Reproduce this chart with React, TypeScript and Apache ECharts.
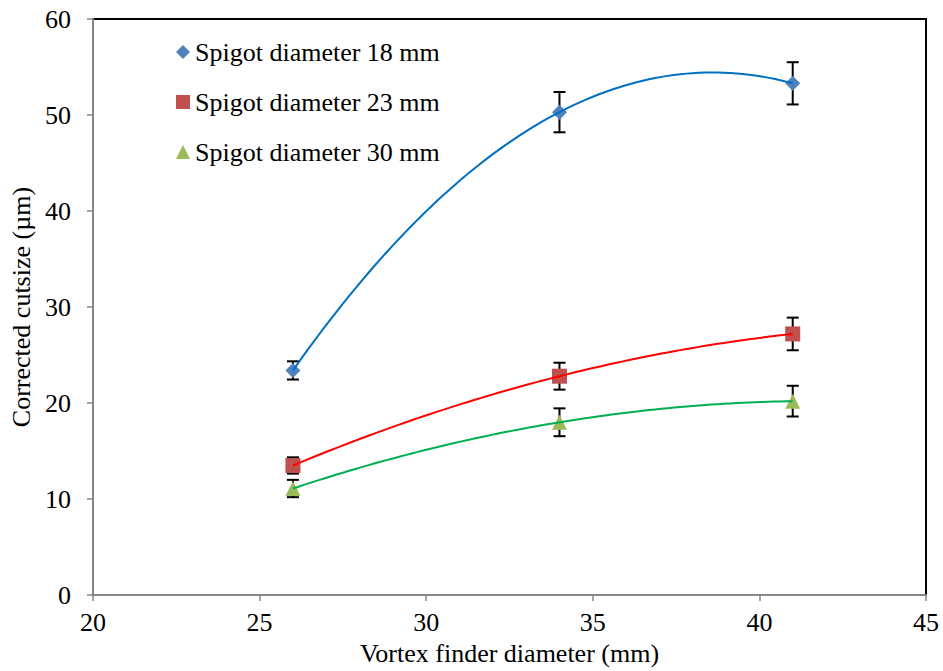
import React, { useEffect, useRef } from "react";
import * as echarts from "echarts";

// Vortex finder diameters (mm)
const vortexFinder = [26, 34, 41];

// Corrected cutsize (µm) per spigot diameter
const spigot18 = [23.4, 50.3, 53.3];
const spigot23 = [13.5, 22.8, 27.2];
const spigot30 = [11.1, 18.0, 20.2];

// Error half-widths (µm)
const err18 = [0.95, 2.1, 2.2];
const err23 = [0.85, 1.4, 1.7];
const err30 = [0.9, 1.45, 1.6];

const seriesNames = ["Spigot diameter 18 mm", "Spigot diameter 23 mm", "Spigot diameter 30 mm"];
const markerColors = ["#4f81bd", "#c0504d", "#9bbb59"];
const trendColors = ["#0070c0", "#ff0000", "#00b050"];
const symbols = ["diamond", "rect", "triangle"];

const FONT = "'Liberation Serif', 'Times New Roman', serif";

// Least-squares second-order polynomial fit (trendline), returns [c0, c1, c2]
function polyfit2(xs: number[], ys: number[]): number[] {
  const n = xs.length;
  let s0 = n, s1 = 0, s2 = 0, s3 = 0, s4 = 0, t0 = 0, t1 = 0, t2 = 0;
  for (let i = 0; i < n; i++) {
    const x = xs[i], y = ys[i];
    s1 += x; s2 += x * x; s3 += x * x * x; s4 += x * x * x * x;
    t0 += y; t1 += x * y; t2 += x * x * y;
  }
  const det3 = (m: number[][]) =>
    m[0][0] * (m[1][1] * m[2][2] - m[1][2] * m[2][1]) -
    m[0][1] * (m[1][0] * m[2][2] - m[1][2] * m[2][0]) +
    m[0][2] * (m[1][0] * m[2][1] - m[1][1] * m[2][0]);
  const A = [
    [s0, s1, s2],
    [s1, s2, s3],
    [s2, s3, s4],
  ];
  const b = [t0, t1, t2];
  const D = det3(A);
  const coef: number[] = [];
  for (let k = 0; k < 3; k++) {
    const M = A.map((row, r) => row.map((v, c) => (c === k ? b[r] : v)));
    coef.push(det3(M) / D);
  }
  return coef;
}

function trendPoints(xs: number[], ys: number[]): number[][] {
  const [c0, c1, c2] = polyfit2(xs, ys);
  const x0 = Math.min(...xs), x1 = Math.max(...xs);
  const pts: number[][] = [];
  const steps = 80;
  for (let i = 0; i <= steps; i++) {
    const x = x0 + ((x1 - x0) * i) / steps;
    pts.push([x, c0 + c1 * x + c2 * x * x]);
  }
  return pts;
}

function errorBarItem(params: any, api: any) {
  const x = api.value(0);
  const top = api.coord([x, api.value(2)]);
  const bot = api.coord([x, api.value(1)]);
  const cw = 6;
  const style = { stroke: "#000000", lineWidth: 2 };
  return {
    type: "group",
    children: [
      { type: "line", shape: { x1: top[0], y1: top[1], x2: bot[0], y2: bot[1] }, style },
      { type: "line", shape: { x1: top[0] - cw, y1: top[1], x2: top[0] + cw, y2: top[1] }, style },
      { type: "line", shape: { x1: bot[0] - cw, y1: bot[1], x2: bot[0] + cw, y2: bot[1] }, style },
    ],
  };
}

export default function App() {
  const ref = useRef<HTMLDivElement>(null);

  useEffect(() => {
    if (!ref.current) return;
    const chart = echarts.init(ref.current, undefined, { renderer: "svg" });

    const values = [spigot18, spigot23, spigot30];
    const errs = [err18, err23, err30];
    const series: any[] = [];

    values.forEach((ys, i) => {
      series.push({
        type: "custom",
        name: seriesNames[i] + " error",
        renderItem: errorBarItem,
        data: vortexFinder.map((x, j) => [x, ys[j] - errs[i][j], ys[j] + errs[i][j]]),
        encode: { x: 0, y: [1, 2] },
        z: 2,
        silent: true,
      });
    });

    values.forEach((ys, i) => {
      series.push({
        type: "scatter",
        name: seriesNames[i],
        symbol: symbols[i],
        symbolSize: 15,
        itemStyle: { color: markerColors[i], opacity: 1 },
        data: vortexFinder.map((x, j) => [x, ys[j]]),
        z: 3,
      });
    });

    values.forEach((ys, i) => {
      series.push({
        type: "line",
        name: seriesNames[i] + " trend",
        showSymbol: false,
        smooth: false,
        lineStyle: { color: trendColors[i], width: 2 },
        data: trendPoints(vortexFinder, ys),
        z: 4,
        silent: true,
      });
    });

    chart.setOption({
      animation: false,
      backgroundColor: "#ffffff",
      textStyle: { fontFamily: FONT, color: "#000000" },
      grid: {
        left: 93,
        right: 17,
        top: 19,
        bottom: 73,
        show: true,
        borderColor: "#000000",
        borderWidth: 2,
      },
      legend: {
        data: seriesNames,
        orient: "vertical",
        left: 171,
        top: 32,
        itemGap: 20,
        itemWidth: 14,
        itemHeight: 14,
        textStyle: { fontFamily: FONT, fontSize: 26, color: "#000000", lineHeight: 30 },
        selectedMode: false,
      },
      xAxis: {
        type: "value",
        min: 20,
        max: 45,
        interval: 5,
        name: "Vortex finder diameter (mm)",
        nameLocation: "middle",
        nameGap: 44,
        nameTextStyle: { fontFamily: FONT, fontSize: 26, color: "#000000" },
        axisLine: { show: true, onZero: false, lineStyle: { color: "#868686", width: 2 } },
        axisTick: { show: true, inside: false, length: 6, lineStyle: { color: "#868686", width: 1.5 } },
        axisLabel: { fontFamily: FONT, fontSize: 26, color: "#000000", margin: 14 },
        splitLine: { show: false },
      },
      yAxis: {
        type: "value",
        min: 0,
        max: 60,
        interval: 10,
        name: "Corrected cutsize (µm)",
        nameLocation: "middle",
        nameGap: 56,
        nameTextStyle: { fontFamily: FONT, fontSize: 26, color: "#000000" },
        axisLine: { show: true, onZero: false, lineStyle: { color: "#868686", width: 2 } },
        axisTick: { show: true, inside: false, length: 6, lineStyle: { color: "#868686", width: 1.5 } },
        axisLabel: { fontFamily: FONT, fontSize: 26, color: "#000000", margin: 22 },
        splitLine: { show: false },
      },
      series,
    });

    return () => chart.dispose();
  }, []);

  return (
    <div
      ref={ref}
      style={{ position: "fixed", left: 0, top: 0, width: 943, height: 671, background: "#ffffff" }}
    />
  );
}
